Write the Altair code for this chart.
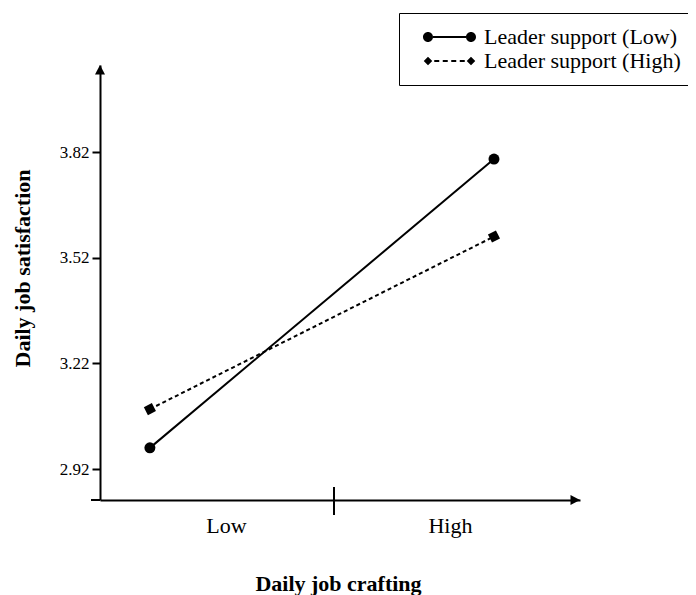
import altair as alt
import pandas as pd

# ---- data ----
crafting = ["Low", "High"]
series = ["Leader support (Low)", "Leader support (High)"]
low_support = [2.98, 3.80]
high_support = [3.09, 3.58]
y_ticks = [2.92, 3.22, 3.52, 3.82]

rows = []
for s, vals in zip(series, [low_support, high_support]):
    for i, (c, v) in enumerate(zip(crafting, vals)):
        rows.append({"series": s, "crafting": c, "idx": i, "value": v})
df = pd.DataFrame(rows)

# ---- layout constants ----
X_MIN, X_MAX = -0.145, 1.25
Y_MIN, Y_MAX = 2.832, 4.067
DIV = 0.535
LABEL_POS = [0.221, 0.872]
FONT = "Liberation Serif"

xs = alt.Scale(domain=[X_MIN, X_MAX], nice=False, zero=False)
ys = alt.Scale(domain=[Y_MIN, Y_MAX], nice=False, zero=False)

x_enc = alt.X(
    "idx:Q", scale=xs,
    axis=alt.Axis(
        values=LABEL_POS, labelExpr=f"datum.value < {DIV} ? '{crafting[0]}' : '{crafting[1]}'",
        ticks=False, tickSize=0, labelPadding=15, labelFontSize=22, labelFont=FONT,
        labelColor="black", labelFlush=False, grid=False,
        domainColor="black", domainWidth=2,
        title="Daily job crafting", titleFont=FONT, titleFontSize=22, titleFontWeight="bold",
        titleColor="black", titleX=238, titleY=83, titleAlign="center", titleBaseline="middle",
    ),
)
y_enc = alt.Y(
    "value:Q", scale=ys,
    axis=alt.Axis(
        values=y_ticks, format=".2f", grid=False,
        domainColor="black", domainWidth=2, tickColor="black", tickWidth=2, tickSize=8,
        labelFont=FONT, labelFontSize=17, labelColor="black", labelPadding=3,
        title="Daily job satisfaction", titleFont=FONT, titleFontSize=22, titleFontWeight="bold",
        titleColor="black", titleAngle=270, titleX=-78, titleY=203, titleAlign="center",
        titleBaseline="middle",
    ),
)

# legend glyphs (marker - line - marker), fill only, units of 5 px
LOW_SYM = (
    "M-1,0A1,1,0,1,1,1,0A1,1,0,1,1,-1,0Z"
    "M1,-0.2L7.6,-0.2L7.6,0.2L1,0.2Z"
    "M7.6,0A1,1,0,1,1,9.6,0A1,1,0,1,1,7.6,0Z"
)
HIGH_SYM = (
    "M-0.85,0L0,-0.85L0.85,0L0,0.85Z"
    "M1.25,-0.2L2.25,-0.2L2.25,0.2L1.25,0.2Z"
    "M2.95,-0.2L3.95,-0.2L3.95,0.2L2.95,0.2Z"
    "M4.65,-0.2L5.65,-0.2L5.65,0.2L4.65,0.2Z"
    "M6.35,-0.2L7.35,-0.2L7.35,0.2L6.35,0.2Z"
    "M7.75,0L8.6,-0.85L9.45,0L8.6,0.85Z"
)

legend = alt.Legend(
    title=None, orient="none", legendX=299, legendY=-52, padding=13,
    strokeColor="black", symbolOffset=5, labelOffset=45, labelFont=FONT,
    labelFontSize=22, labelColor="black", labelLimit=400, rowPadding=2,
    symbolSize=100, symbolStrokeWidth=0, symbolOpacity=1,
    symbolFillColor="black",
)

base = alt.Chart(df)

line_low = base.transform_filter(alt.datum.series == series[0]).mark_line(
    color="black", strokeWidth=2
).encode(x=x_enc, y=y_enc)

line_high = base.transform_filter(alt.datum.series == series[1]).mark_line(
    color="black", strokeWidth=2, strokeDash=[4, 3]
).encode(x="idx:Q", y="value:Q")

# invisible layer that only carries the legend
legend_layer = base.mark_point(filled=True, color="black", opacity=0).encode(
    x="idx:Q", y="value:Q",
    shape=alt.Shape("series:N", scale=alt.Scale(domain=series, range=[LOW_SYM, HIGH_SYM]),
                    legend=legend),
)

circles = base.transform_filter(alt.datum.series == series[0]).mark_point(
    shape="circle", filled=True, color="black", opacity=1, size=121
).encode(x="idx:Q", y="value:Q")

squares = base.transform_filter(alt.datum.series == series[1]).mark_point(
    shape="square", filled=True, color="black", opacity=1, size=81, angle=333
).encode(x="idx:Q", y="value:Q")

one = alt.Chart(pd.DataFrame({"a": [0]}))

arrow_up = one.mark_point(
    shape="M0,0L-1,1.9L1,1.9Z", filled=True, color="black", opacity=1, size=100
).encode(x=alt.datum(X_MIN), y=alt.datum(Y_MAX))

arrow_right = one.mark_point(
    shape="M0,0L-1.9,-1L-1.9,1Z", filled=True, color="black", opacity=1, size=100
).encode(x=alt.datum(X_MAX), y=alt.datum(Y_MIN))

divider = one.mark_rule(color="black", strokeWidth=2).encode(
    x=alt.datum(DIV), y=alt.datum(Y_MIN + 13 / 352), y2=alt.datum(Y_MIN - 15 / 352)
)

x_ext = one.mark_rule(color="black", strokeWidth=2).encode(
    x=alt.datum(X_MIN - 9 / 344), x2=alt.datum(X_MIN), y=alt.datum(Y_MIN)
)

chart = (
    alt.layer(line_low, line_high, legend_layer, circles, squares, divider, x_ext,
              arrow_up, arrow_right)
    .properties(
        width=480, height=435,
        padding={"left": 92, "top": 57, "right": 108, "bottom": 95},
        autosize=alt.AutoSizeParams(type="none"),
    )
    .configure(font=FONT)
    .configure_view(strokeWidth=0, stroke="transparent")
)

chart.save("out.html", embed_options={"renderer": "svg", "actions": False})
